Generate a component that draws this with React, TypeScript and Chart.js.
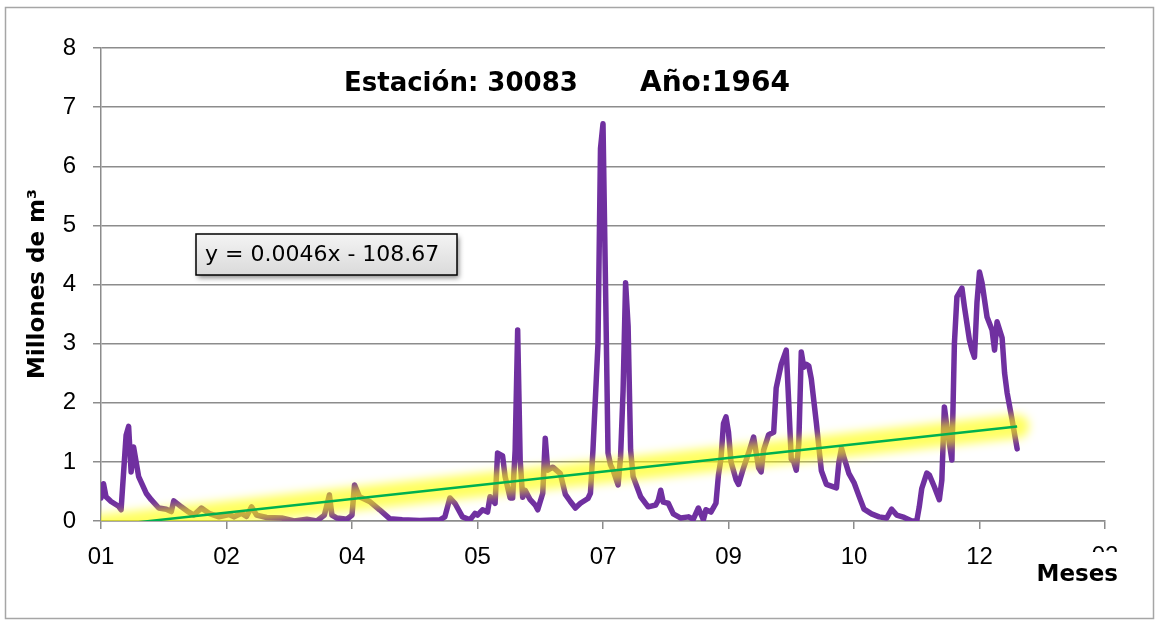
import React, { useEffect, useRef } from "react";
import { Chart, registerables } from "chart.js";

Chart.register(...registerables);

// Day of year 1964 (0 = 1 Jan) and daily volume (millones de m³)
const days = [
  0, 1, 2, 4, 7, 8, 10, 11, 12, 13, 15, 18, 20, 23, 26, 28, 29, 32, 35, 37, 40, 43, 47, 51, 53, 56, 58, 60, 62, 66,
  72, 77, 82, 86, 89, 91, 92, 94, 98, 100, 101, 103, 107, 111, 115, 120, 127, 135, 137, 139, 141, 144, 147, 149, 150,
  152, 154, 155, 157, 158, 160, 161, 163, 164, 165, 166, 167, 168, 169, 171, 173, 174, 176, 177, 178, 180, 183, 185,
  187, 189, 191, 194, 195, 196, 198, 199, 200, 201, 202, 203, 204, 206, 207, 208, 209, 210, 211, 212, 215, 218, 221,
  222, 223, 224, 226, 228, 231, 234, 236, 238, 240, 241, 243, 245, 246, 247, 248, 249, 250, 251, 253, 254, 256, 258,
  260, 262, 263, 264, 266, 268, 269, 271, 273, 274, 275, 276, 277, 278, 279, 280, 281, 282, 283, 285, 287, 289, 293,
  294, 295, 296, 298, 300, 302, 304, 307, 310, 313, 315, 317, 320, 323, 325, 326, 327, 329, 330, 332, 334, 335, 336,
  337, 339, 340, 341, 343, 344, 346, 347, 348, 349, 350, 351, 353, 355, 356, 357, 359, 360, 361, 363, 365,
];
const volumes = [
  0.39, 0.63, 0.41, 0.33, 0.25, 0.19, 1.45, 1.6, 0.83, 1.25, 0.75, 0.47, 0.36, 0.22, 0.2, 0.16, 0.34, 0.24, 0.15, 0.1,
  0.22, 0.13, 0.07, 0.11, 0.07, 0.13, 0.08, 0.24, 0.1, 0.06, 0.05, 0.0, 0.03, 0.0, 0.1, 0.44, 0.1, 0.05, 0.03, 0.1,
  0.61, 0.41, 0.33, 0.19, 0.04, 0.02, 0.01, 0.02, 0.07, 0.39, 0.3, 0.07, 0.02, 0.13, 0.1, 0.19, 0.15, 0.41, 0.3, 1.15,
  1.1, 0.75, 0.39, 0.39, 1.2, 3.23, 1.03, 0.4, 0.52, 0.36, 0.27, 0.19, 0.47, 1.4, 0.86, 0.91, 0.8, 0.45, 0.33, 0.22,
  0.3, 0.38, 0.47, 1.2, 3.0, 6.3, 6.72, 4.0, 1.15, 0.95, 0.86, 0.61, 1.08, 2.2, 4.03, 3.3, 1.2, 0.75, 0.41, 0.24, 0.27,
  0.35, 0.52, 0.32, 0.3, 0.12, 0.05, 0.07, 0.03, 0.22, 0.02, 0.19, 0.15, 0.3, 0.78, 1.05, 1.65, 1.76, 1.5, 1.0, 0.7,
  0.62, 0.9, 1.15, 1.42, 0.9, 0.83, 1.2, 1.46, 1.5, 2.25, 2.65, 2.89, 2.0, 1.05, 1.0, 0.86, 1.3, 2.86, 2.6, 2.65, 2.62,
  2.4, 1.66, 0.85, 0.62, 0.56, 1.0, 1.23, 1.08, 0.8, 0.65, 0.42, 0.2, 0.12, 0.07, 0.05, 0.2, 0.1, 0.06, 0.0, 0.0, 0.24,
  0.55, 0.81, 0.78, 0.58, 0.36, 0.69, 1.93, 1.6, 1.03, 3.0, 3.79, 3.94, 3.62, 3.06, 2.89, 2.77, 3.7, 4.21, 4.03, 3.45,
  3.23, 2.89, 3.37, 3.1, 2.5, 2.17, 1.71, 1.22,
];

// Linear trend (y = 0.0046x - 108.67) read at the first and last day
const trendDays = [0, 365];
const trendValues = [-0.09, 1.6];

// Tick labels every 50 days (month number of the date)
const monthLabels = ["01", "02", "04", "05", "07", "09", "10", "12", "02"];

const titleStation = "Estación: 30083";
const titleYear = "Año:1964";
const yTitle = "Millones de m³";
const xTitle = "Meses";
const equation = "y = 0.0046x - 108.67";

const TICK_FONT = '"Liberation Sans", Arial, sans-serif';
const BOLD_FONT = '"DejaVu Sans", sans-serif';

const decor = {
  id: "decor",
  beforeDraw(chart: any) {
    const ctx = chart.ctx;
    ctx.save();
    ctx.fillStyle = "#ffffff";
    ctx.fillRect(0, 0, chart.width, chart.height);
    ctx.strokeStyle = "#a6a6a6";
    ctx.lineWidth = 1.5;
    ctx.strokeRect(5.5, 7.5, 1148, 611);
    ctx.restore();
  },
  beforeDatasetDraw(chart: any, args: any) {
    if (args.index === 1) {
      chart.ctx.save();
      chart.ctx.filter = "blur(5px)";
    }
  },
  afterDatasetDraw(chart: any, args: any) {
    if (args.index === 1) {
      chart.ctx.restore();
    }
  },
  afterDraw(chart: any) {
    const ctx = chart.ctx;
    const area = chart.chartArea;
    const xs = chart.scales.x;
    ctx.save();
    // title
    ctx.fillStyle = "#000";
    ctx.font = `bold 26px ${BOLD_FONT}`;
    ctx.textBaseline = "alphabetic";
    ctx.textAlign = "left";
    ctx.fillText(titleStation, 344, 91);
    ctx.font = `bold 28px ${BOLD_FONT}`;
    ctx.fillText(titleYear, 640, 91);

    // y axis title
    ctx.save();
    ctx.translate(38, 284);
    ctx.rotate(-Math.PI / 2);
    ctx.font = `bold 23px ${BOLD_FONT}`;
    ctx.textAlign = "center";
    ctx.textBaseline = "middle";
    ctx.fillText(yTitle, 0, 0);
    ctx.restore();

    // last tick label, partly hidden
    ctx.save();
    ctx.beginPath();
    ctx.rect(xs.getPixelForValue(400) - 30, area.bottom + 10, 60, 552 - area.bottom - 10);
    ctx.clip();
    ctx.font = `24px ${TICK_FONT}`;
    ctx.textAlign = "center";
    ctx.textBaseline = "top";
    ctx.fillText(monthLabels[monthLabels.length - 1], xs.getPixelForValue(400), 544);
    ctx.restore();

    // x axis title
    ctx.font = `bold 23px ${BOLD_FONT}`;
    ctx.textAlign = "right";
    ctx.textBaseline = "middle";
    ctx.fillText(xTitle, 1118, 575);

    // equation box
    const bx = 196, by = 234, bw = 261, bh = 41;
    ctx.save();
    ctx.shadowColor = "rgba(0,0,0,0.45)";
    ctx.shadowBlur = 5;
    ctx.shadowOffsetX = 2;
    ctx.shadowOffsetY = 3;
    const g = ctx.createLinearGradient(0, by, 0, by + bh);
    g.addColorStop(0, "#f4f4f4");
    g.addColorStop(1, "#dadada");
    ctx.fillStyle = g;
    ctx.fillRect(bx, by, bw, bh);
    ctx.restore();
    ctx.strokeStyle = "#000";
    ctx.lineWidth = 1.5;
    ctx.strokeRect(bx, by, bw, bh);
    ctx.fillStyle = "#000";
    ctx.font = `22px ${BOLD_FONT}`;
    ctx.textAlign = "left";
    ctx.textBaseline = "middle";
    ctx.fillText(equation, 205, by + bh / 2 + 1);
    ctx.restore();
  },
};

export default function App() {
  const canvasRef = useRef<HTMLCanvasElement | null>(null);

  useEffect(() => {
    const canvas = canvasRef.current;
    if (!canvas) return;
    const series = days.map((d, i) => ({ x: d, y: volumes[i] }));
    const trend = trendDays.map((d, i) => ({ x: d, y: trendValues[i] }));
    const chart = new Chart(canvas, {
      type: "line",
      data: {
        datasets: [
          {
            label: "Tendencia",
            data: trend,
            borderColor: "#00b050",
            borderWidth: 2.5,
            pointRadius: 0,
            tension: 0,
          },
          {
            label: "Brillo",
            data: trend,
            borderColor: "rgba(255,255,0,0.62)",
            borderWidth: 24,
            borderCapStyle: "round",
            pointRadius: 0,
            tension: 0,
          },
          {
            label: "Volumen",
            data: series,
            borderColor: "#7030a0",
            borderWidth: 5.5,
            borderJoinStyle: "round",
            borderCapStyle: "round",
            pointRadius: 0,
            tension: 0,
          },
        ],
      },
      options: {
        responsive: false,
        animation: false,
        devicePixelRatio: 1,
        layout: { padding: { top: 48, right: 51, left: 0, bottom: 0 } },
        plugins: {
          legend: { display: false },
          tooltip: { enabled: false },
          title: { display: false },
        },
        scales: {
          x: {
            type: "linear",
            min: 0,
            max: 400,
            afterFit: (s: any) => {
              s.height = 100;
            },
            ticks: {
              stepSize: 50,
              autoSkip: false,
              maxRotation: 0,
              padding: 14,
              color: "#000",
              font: { family: TICK_FONT, size: 24 },
              callback: (_v: any, i: number) => (i < monthLabels.length - 1 ? monthLabels[i] : ""),
            },
            grid: {
              drawOnChartArea: false,
              drawTicks: true,
              tickLength: 8,
              color: "#8c8c8c",
              lineWidth: 1.5,
            },
            border: { display: true, color: "#8c8c8c", width: 1.5 },
          },
          y: {
            min: 0,
            max: 8,
            afterFit: (s: any) => {
              s.width = 101;
            },
            ticks: {
              stepSize: 1,
              padding: 17,
              color: "#000",
              font: { family: TICK_FONT, size: 24 },
            },
            grid: {
              drawTicks: true,
              tickLength: 8,
              color: "#8c8c8c",
              lineWidth: 1.5,
            },
            border: { display: true, color: "#8c8c8c", width: 1.5 },
          },
        },
      },
      plugins: [decor],
    });
    return () => chart.destroy();
  }, []);

  return (
    <div style={{ position: "fixed", left: 0, top: 0, width: 1156, height: 621, background: "#fff" }}>
      <canvas ref={canvasRef} width={1156} height={621} style={{ display: "block" }} />
    </div>
  );
}
